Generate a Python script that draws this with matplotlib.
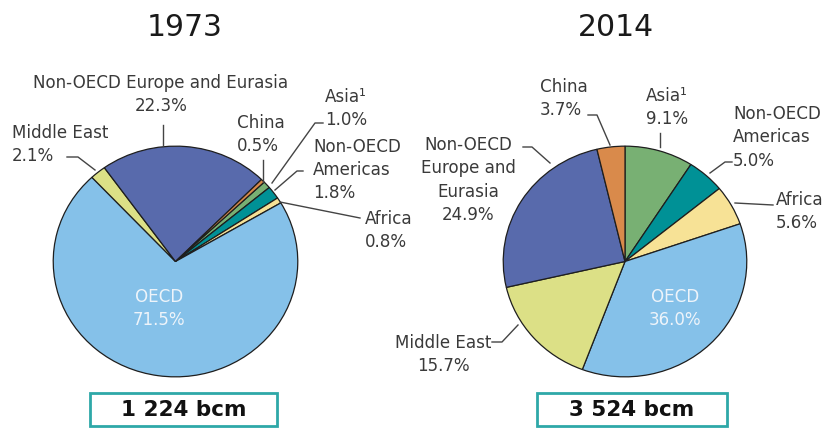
import matplotlib
matplotlib.use("Agg")
import matplotlib.pyplot as plt
from matplotlib import font_manager as fm
from matplotlib.patches import Rectangle

# data, clockwise from Asia
regions = ["Asia", "Non-OECD Americas", "Africa", "OECD", "Middle East",
           "Non-OECD Europe and Eurasia", "China"]
shares_1973 = [1.0, 1.8, 0.8, 71.5, 2.1, 22.3, 0.5]
shares_2014 = [9.1, 5.0, 5.6, 36.0, 15.7, 24.9, 3.7]
years = ["1973", "2014"]
totals = ["1 224 bcm", "3 524 bcm"]

colors = ["#78B073", "#009196", "#F7E296", "#85C1E9", "#DCE086", "#586AAC", "#D98A4B"]

W, H = 826, 428
txt_col = "#3a3a3a"
line_col = "#444444"

# pick a narrow font for the labels if there is one
names = {f.name for f in fm.fontManager.ttflist}
cond = [f for f in fm.fontManager.ttflist if f.name == "DejaVu Sans" and f.stretch == "condensed"]
if "Liberation Sans Narrow" in names:
    lab_kw = dict(family=["Liberation Sans Narrow", "DejaVu Sans"], fontsize=15)
elif cond:
    lab_kw = dict(family=["DejaVu Sans"], fontstretch="condensed", fontsize=13.3)
else:
    lab_kw = dict(family=["Liberation Sans", "DejaVu Sans"], fontsize=12.9)

fig = plt.figure(figsize=(W / 100, H / 100), dpi=100)


def pie_axes(cx, cy, rx, ry):
    return fig.add_axes([(cx - rx) / W, 1 - (cy + ry) / H, 2 * rx / W, 2 * ry / H])


def draw_pie(ax, shares, start):
    ax.pie(shares, colors=colors, startangle=start, counterclock=False,
           wedgeprops=dict(edgecolor="#1e1e1e", linewidth=0.9))
    ax.set_aspect("auto")
    ax.set_xlim(-1.01, 1.01)
    ax.set_ylim(-1.01, 1.01)
    ax.axis("off")


def fmt(name, v):
    return f"{name}\n{v:.1f}%"


# pies
ax1 = pie_axes(175.5, 261.5, 123.5, 116.5)
draw_pie(ax1, shares_1973, 43.5)
ax2 = pie_axes(625, 261.5, 123, 116.5)
draw_pie(ax2, shares_2014, 90)

# overlay in pixel coords for texts, leaders and boxes
bg = fig.add_axes([0, 0, 1, 1])
bg.set_xlim(0, W)
bg.set_ylim(H, 0)
bg.axis("off")
bg.set_zorder(10)
bg.patch.set_alpha(0)

# titles
bg.text(185, 27, years[0], ha="center", va="center", fontsize=21.5, color="#1a1a1a")
bg.text(615.5, 27, years[1], ha="center", va="center", fontsize=21.5, color="#1a1a1a")

s73 = dict(zip(regions, shares_1973))
s14 = dict(zip(regions, shares_2014))

labels = [
    # 1973
    (fmt("Non-OECD Europe and Eurasia", s73["Non-OECD Europe and Eurasia"]), 161, 94.5, "center"),
    (fmt("Middle East", s73["Middle East"]), 12, 144.5, "left"),
    (fmt("China", s73["China"]), 237, 134.5, "left"),
    (fmt("Asia\u00b9", s73["Asia"]), 325, 108.5, "left"),
    (fmt("Non-OECD\nAmericas", s73["Non-OECD Americas"]), 313, 170, "left"),
    (fmt("Africa", s73["Africa"]), 365, 230.5, "left"),
    # 2014
    (fmt("China", s14["China"]), 540, 98.5, "left"),
    (fmt("Asia\u00b9", s14["Asia"]), 667, 107.5, "center"),
    (fmt("Non-OECD\nAmericas", s14["Non-OECD Americas"]), 733, 137.5, "left"),
    (fmt("Africa", s14["Africa"]), 776, 211.5, "left"),
    (fmt("Non-OECD\nEurope and\nEurasia", s14["Non-OECD Europe and Eurasia"]), 468, 180, "center"),
    (fmt("Middle East", s14["Middle East"]), 443, 354.5, "center"),
]
for t, x, y, ha in labels:
    bg.text(x, y, t, ha=ha, va="center", multialignment=ha, color=txt_col,
            linespacing=1.37, **lab_kw)

# OECD labels inside the pies
bg.text(159, 308.5, fmt("OECD", s73["OECD"]), ha="center", va="center",
        color="#eef4fa", linespacing=1.3, **lab_kw)
bg.text(675, 308.5, fmt("OECD", s14["OECD"]), ha="center", va="center",
        color="#eef4fa", linespacing=1.3, **lab_kw)

# leader lines
leaders = [
    [(163, 125), (163, 145)],
    [(67, 157), (78, 157), (95, 170)],
    [(263, 160), (263, 182)],
    [(323, 123), (315, 123), (272, 183)],
    [(303, 171), (297, 171), (275, 190)],
    [(360, 218), (280, 202)],
    [(588, 115), (597, 115), (610, 145)],
    [(660, 133), (660, 147)],
    [(732, 162), (725, 162), (710, 173)],
    [(773, 205), (735, 203)],
    [(523, 147), (532, 147), (550, 163)],
    [(492, 342), (502, 342), (518, 325)],
]
for pts in leaders:
    xs, ys = zip(*pts)
    bg.plot(xs, ys, color=line_col, lw=1)

# total boxes
for (x0, x1), total in zip([(90, 277), (537, 727)], totals):
    bg.add_patch(Rectangle((x0, 393), x1 - x0, 33, facecolor="white",
                           edgecolor="#2EA8A8", lw=2))
    bg.text((x0 + x1) / 2, 410, total, ha="center", va="center", fontsize=15.5,
            fontweight="bold", color="#111111")

fig.savefig("out.png", dpi=100)
